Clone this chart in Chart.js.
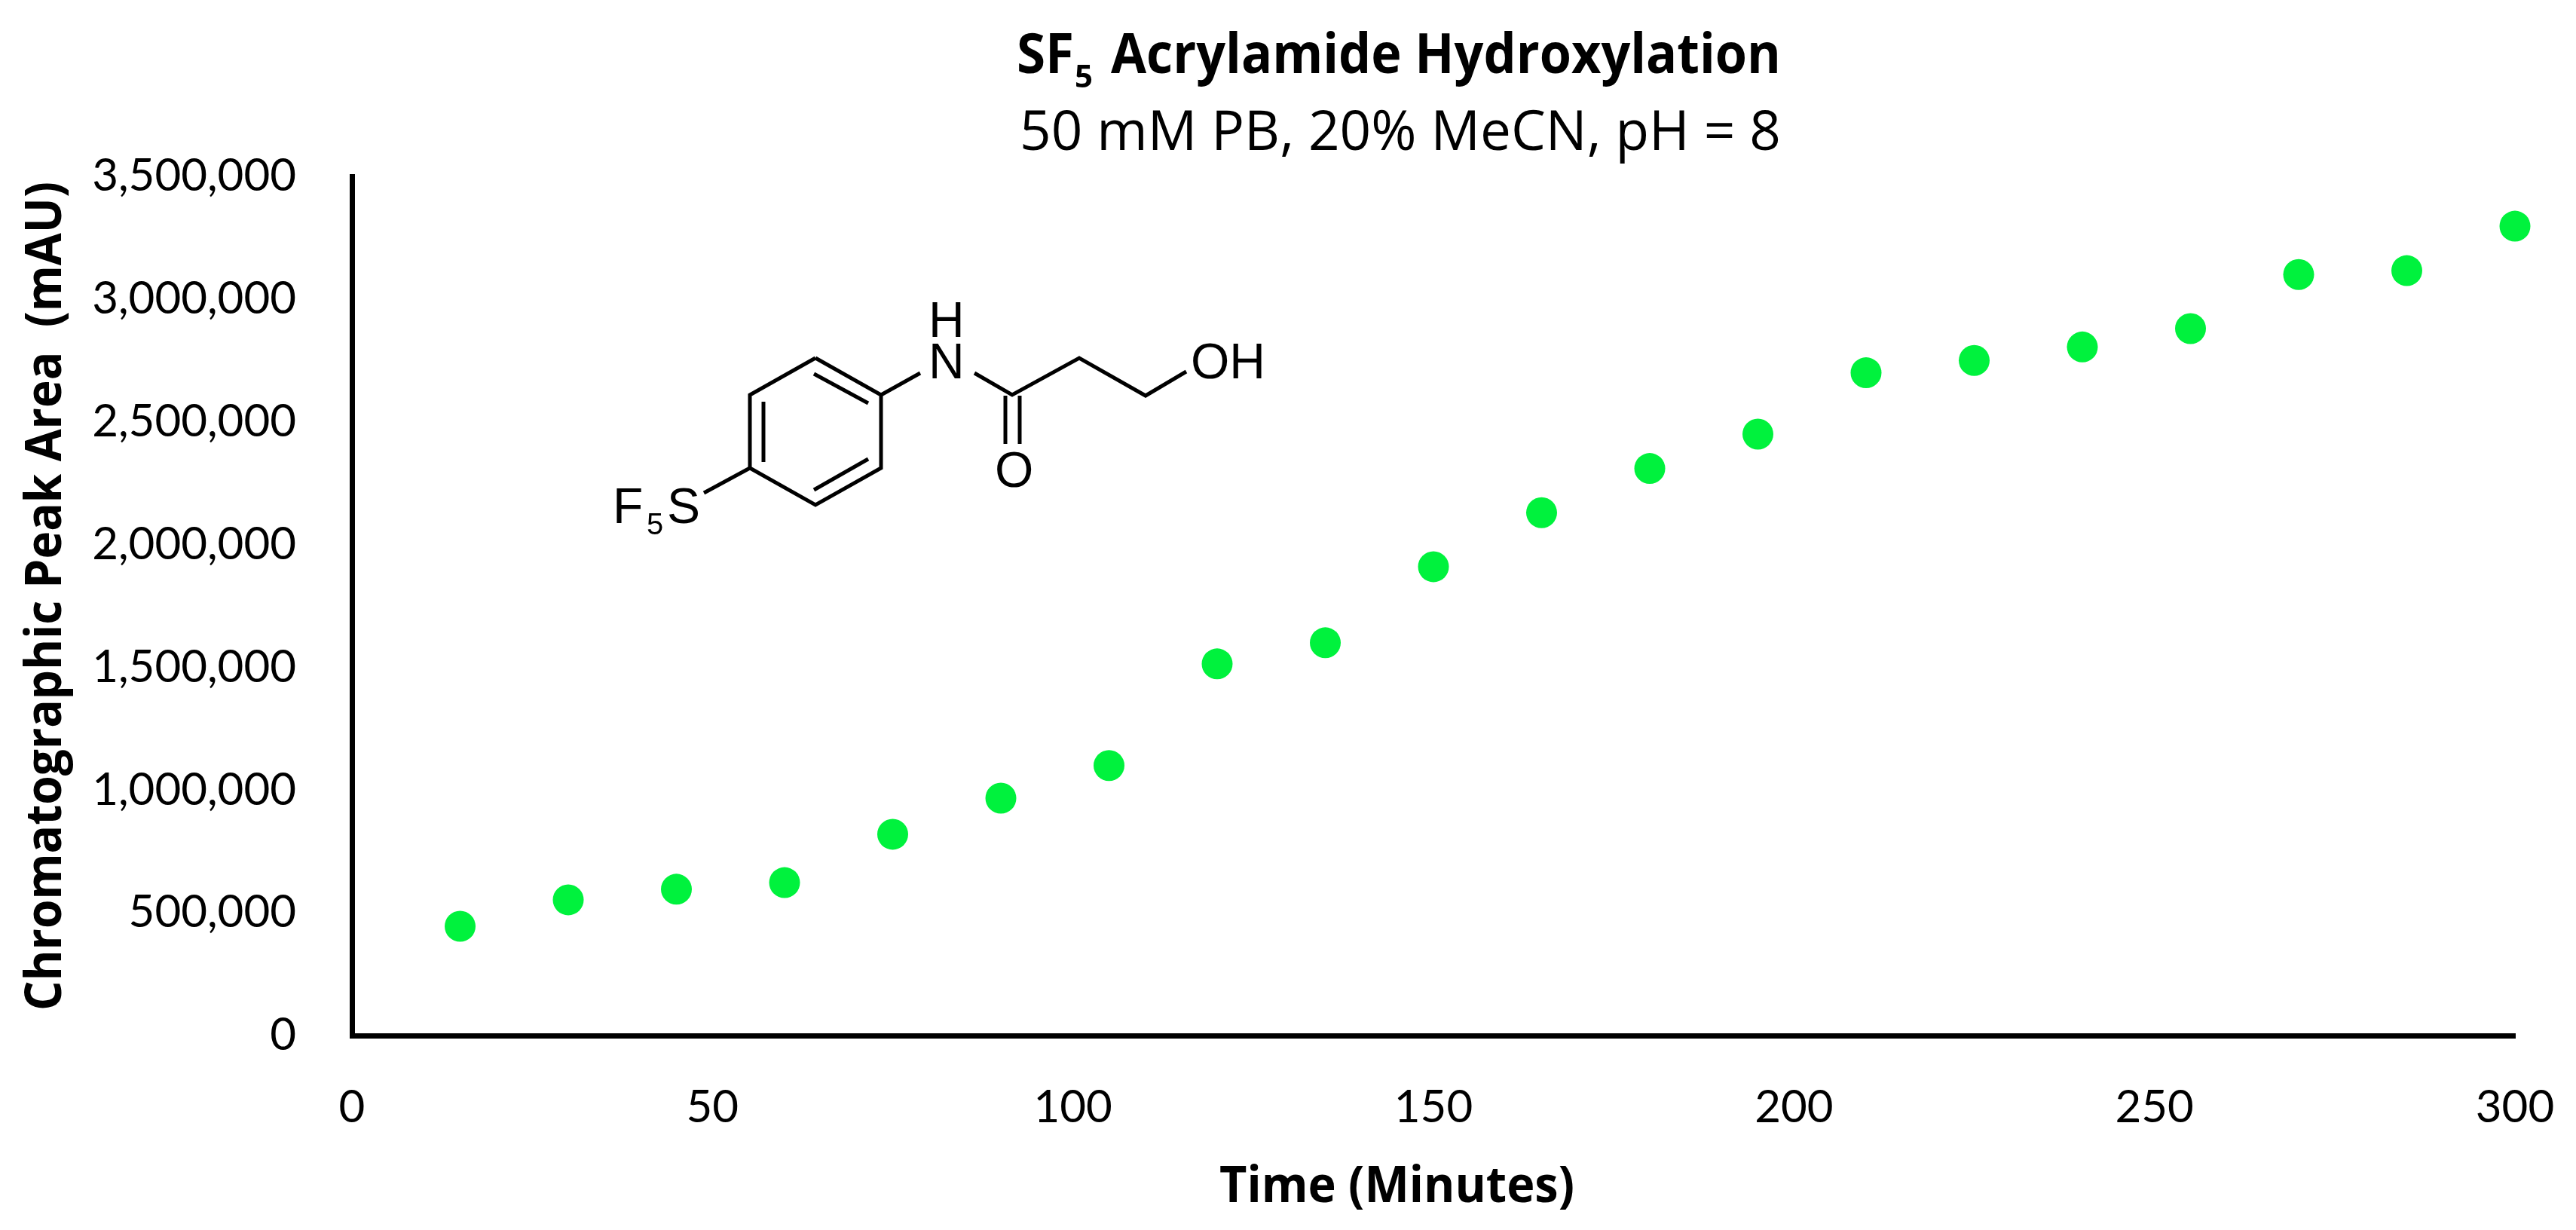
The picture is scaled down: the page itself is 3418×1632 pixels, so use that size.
<!DOCTYPE html>
<html>
<head>
<meta charset="utf-8">
<script src="https://cdn.jsdelivr.net/npm/chart.js@4"></script>
<style>
  body { margin: 0; background: #fff; }
  canvas { display: block; }
</style>
</head>
<body>
<canvas id="myChart" width="3418" height="1632"></canvas>
<script>
const timeMinutes = [15, 30, 45, 60, 75, 90, 105, 120, 135, 150, 165, 180, 195, 210, 225, 240, 255, 270, 285, 300];
const peakArea = [445000, 553000, 596000, 623000, 820000, 967000, 1100000, 1514000, 1600000, 1910000,
  2130000, 2310000, 2450000, 2700000, 2750000, 2805000, 2880000, 3100000, 3116000, 3297000];

const titleBold = ['SF', '5', 'Acrylamide Hydroxylation'];
const subTitle = '50 mM PB, 20% MeCN, pH = 8';
const xTitle = 'Time (Minutes)';
const yTitle = 'Chromatographic Peak Area  (mAU)';

const font = 'Lato';
const titleFont = '"Open Sans"';

// text and structure that Chart.js has no option for
const annotations = {
  id: 'annotations',
  afterDraw(chart) {
    const c = chart.ctx;
    c.save();
    c.fillStyle = '#000';
    c.textBaseline = 'alphabetic';
    c.textAlign = 'left';

    c.font = 'bold 73px ' + titleFont;
    c.fillText(titleBold[0], 1349, 97, 76);
    c.fillText(titleBold[2], 1474, 97, 889);
    c.font = 'bold 42px ' + titleFont;
    c.fillText(titleBold[1], 1426, 116, 25);
    c.font = '73px ' + titleFont;
    c.fillText(subTitle, 1353, 199, 1010);

    c.font = 'bold 66px ' + titleFont;
    c.fillText(xTitle, 1618, 1595, 471);
    c.save();
    c.translate(81, 1341);
    c.rotate(-Math.PI / 2);
    c.fillText(yTitle, 0, 0, 1100);
    c.restore();

    // structure drawing
    c.strokeStyle = '#000';
    c.lineWidth = 5;
    c.lineCap = 'butt';
    c.lineJoin = 'miter';
    const paths = [
      [[1082, 475], [1169, 524], [1169, 621], [1082, 670], [995, 621], [995, 524], [1082, 475]],
      [[1080, 496], [1152, 535]],
      [[1013, 533], [1013, 613]],
      [[1152, 609], [1080, 650]],
      [[1169, 524], [1221, 495]],
      [[1293, 495], [1343, 524], [1432, 475], [1520, 525], [1574, 493]],
      [[1334, 525], [1334, 589]],
      [[1353, 525], [1353, 589]],
      [[995, 621], [934, 654]]
    ];
    paths.forEach(p => {
      c.beginPath();
      p.forEach((pt, i) => i ? c.lineTo(pt[0], pt[1]) : c.moveTo(pt[0], pt[1]));
      c.stroke();
    });
    c.font = '66px "Liberation Sans"';
    c.fillText('H', 1232, 447);
    c.fillText('N', 1232, 502);
    c.fillText('OH', 1580, 502);
    c.fillText('O', 1320, 646);
    c.fillText('F', 813, 694);
    c.fillText('S', 885, 694);
    c.font = '40px "Liberation Sans"';
    c.fillText('5', 858, 709);
    c.restore();
  }
};

new Chart(document.getElementById('myChart'), {
  type: 'scatter',
  data: {
    datasets: [{
      data: timeMinutes.map((t, i) => ({ x: t, y: peakArea[i] })),
      backgroundColor: '#00F23D',
      borderWidth: 0,
      pointRadius: 20.5,
      clip: false
    }]
  },
  options: {
    responsive: false,
    animation: false,
    layout: { padding: { top: 234, right: 81, left: 0, bottom: 0 } },
    plugins: { legend: { display: false }, tooltip: { enabled: false } },
    scales: {
      x: {
        type: 'linear',
        min: 0,
        max: 300,
        afterFit: s => { s.height = 258; s.paddingRight = 0; s.paddingLeft = 0; },
        grid: { display: false, drawTicks: false },
        border: { color: '#000', width: 7 },
        ticks: { stepSize: 50, padding: 60, maxRotation: 0, color: '#000', font: { family: font, size: 60 } }
      },
      y: {
        min: 0,
        max: 3500000,
        afterFit: s => { s.width = 467; s.paddingTop = 0; s.paddingBottom = 0; },
        grid: { display: false, drawTicks: false },
        border: { color: '#000', width: 7 },
        ticks: {
          stepSize: 500000,
          padding: 74,
          color: '#000',
          font: { family: font, size: 60 },
          callback: v => v.toLocaleString('en-US')
        }
      }
    }
  },
  plugins: [annotations]
});
</script>
</body>
</html>
